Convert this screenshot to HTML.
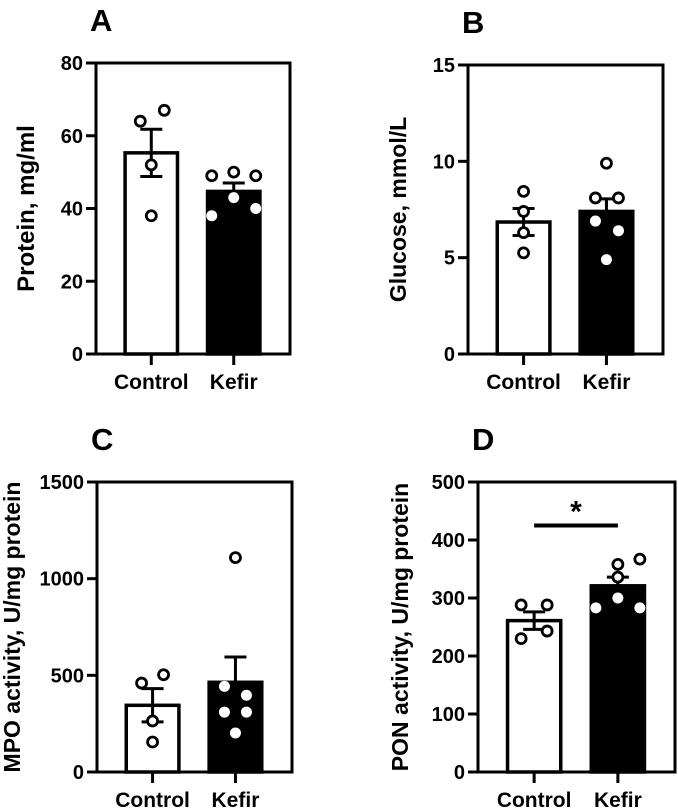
<!DOCTYPE html>
<html><head><meta charset="utf-8"><style>
body{margin:0;background:#fff;}
svg{display:block;font-family:"Liberation Sans",Arial,sans-serif;font-weight:bold;}
</style></head><body>
<svg id="fig" width="678" height="810" viewBox="0 0 678 810"></svg>
<script>
const groups = ["Control","Kefir"];
// Panel A: Protein
const aMeans = [55.3, 44.7];
const aErr = [6.5, 2.3];
const aCtrl = [64, 67, 52, 38];
const aKef = [49, 50, 49, 43, 38, 40];
const aTicks = [0,20,40,60,80];
// Panel B: Glucose
const bMeans = [6.85, 7.4];
const bErr = [0.7, 0.65];
const bCtrl = [8.44, 7.4, 6.3, 5.25];
const bKef = [9.9, 8.1, 8.1, 6.9, 6.4, 4.9];
const bTicks = [0,5,10,15];
// Panel C: MPO
const cMeans = [345, 464];
const cErr = [86, 131];
const cCtrl = [503, 460, 264, 155];
const cKef = [1109, 443, 397, 310, 310, 202];
const cTicks = [0,500,1000,1500];
// Panel D: PON
const dMeans = [261, 321];
const dErr = [15, 15];
const dCtrl = [288, 288, 243, 230];
const dKef = [367, 358, 336, 300, 283, 283];
const dTicks = [0,100,200,300,400,500];

// horizontal jitter of scatter points (layout only)
const jit = {
  A:[[-11,13,0,0],[-22,0,22,0,-22,22]],
  B:[[0,0,0,0],[0,-11,12,-11,12,0]],
  C:[[11,-11,0,0],[0,-11,11,-11,11,0]],
  D:[[-13,13,13,-13],[22,0,0,0,-22,22]]
};

const NS="http://www.w3.org/2000/svg";
const svg=document.getElementById('fig');
function mk(tag,attrs,parent){const e=document.createElementNS(NS,tag);for(const k in attrs)e.setAttribute(k,attrs[k]);(parent||svg).appendChild(e);return e;}

function panel(letter,box,ticks,means,errs,ctrl,kef,ytitle,tfs,toff){
  const g=mk('g',{});
  
  
  const {L,R,T,B}=box;
  const max=ticks[ticks.length-1];
  const y=v=>B-(v/max)*(B-T);
  const bw=(R-L);
  const cx=[L+bw*0.285, L+bw*0.71];
  const barW=bw*0.27;
  const t=mk('text',{x:L-6,y:T-32,'font-size':31},g);t.textContent=letter;
  
  
  means.forEach((m,i)=>{
    const r=mk('rect',{x:cx[i]-barW/2,y:y(m),width:barW,height:B-y(m),fill:i?'#000':'#fff',stroke:'#000','stroke-width':3.5},g);
    
    
    const e=mk('path',{d:`M${cx[i]} ${y(m)} V${y(m+errs[i])} M${cx[i]-11} ${y(m+errs[i])} H${cx[i]+11}`+(i?'':` M${cx[i]} ${y(m)} V${y(m-errs[i])} M${cx[i]-11} ${y(m-errs[i])} H${cx[i]+11}`),stroke:'#000','stroke-width':3,fill:'none'},g);
    
    
  });
  [ctrl,kef].forEach((arr,i)=>{
    arr.forEach((v,j)=>{
      const dx=jit[letter][i][j];
      const outlined = (i===0) || (y(v) < y(means[i])-3);
      const c=mk('circle',{cx:cx[i]+dx,cy:y(v),r:outlined?5:5.5,fill:'#fff',stroke:outlined?'#000':'none','stroke-width':outlined?2.8:0},g);
      
      
    });
  });
  const fr=mk('path',{d:`M${L} ${T} H${R} V${B} H${L} Z`,fill:'none',stroke:'#000','stroke-width':3},g);
  
  
  ticks.forEach(v=>{
    mk('line',{x1:L-10,x2:L,y1:y(v),y2:y(v),stroke:'#000','stroke-width':3},g);
    const tl=mk('text',{x:L-13,y:y(v)+7,'font-size':20,'text-anchor':'end'},g);
    tl.textContent=v;
    
    
  });
  groups.forEach((n,i)=>{
    mk('line',{x1:cx[i],x2:cx[i],y1:B,y2:B+11,stroke:'#000','stroke-width':3},g);
    const xl=mk('text',{x:cx[i],y:B+35,'font-size':21,'text-anchor':'middle'},g);
    xl.textContent=n;
    
    
  });
  const yt=mk('text',{x:0,y:0,'font-size':tfs,'text-anchor':'middle',transform:`translate(${L-toff},${(T+B)/2}) rotate(-90)`},g);
  yt.textContent=ytitle;
  
  
  return {y,cx};
}
const pA=panel('A',{L:96,R:290,T:63,B:354},aTicks,aMeans,aErr,aCtrl,aKef,'Protein, mg/ml',24,62);
const pB=panel('B',{L:468,R:663,T:65,B:354},bTicks,bMeans,bErr,bCtrl,bKef,'Glucose, mmol/L',23,62);
const pC=panel('C',{L:97,R:292,T:482,B:772},cTicks,cMeans,cErr,cCtrl,cKef,'MPO activity, U/mg protein',23,77);
const pD=panel('D',{L:478,R:675,T:482,B:772},dTicks,dMeans,dErr,dCtrl,dKef,'PON activity, U/mg protein',23,70);
const sig=mk('line',{x1:pD.cx[0],x2:pD.cx[1],y1:pD.y(425),y2:pD.y(425),stroke:'#000','stroke-width':4});


const st=mk('text',{x:(pD.cx[0]+pD.cx[1])/2,y:pD.y(425)-4,'font-size':30,'text-anchor':'middle'});
st.textContent='*';


</script>
</body></html>
